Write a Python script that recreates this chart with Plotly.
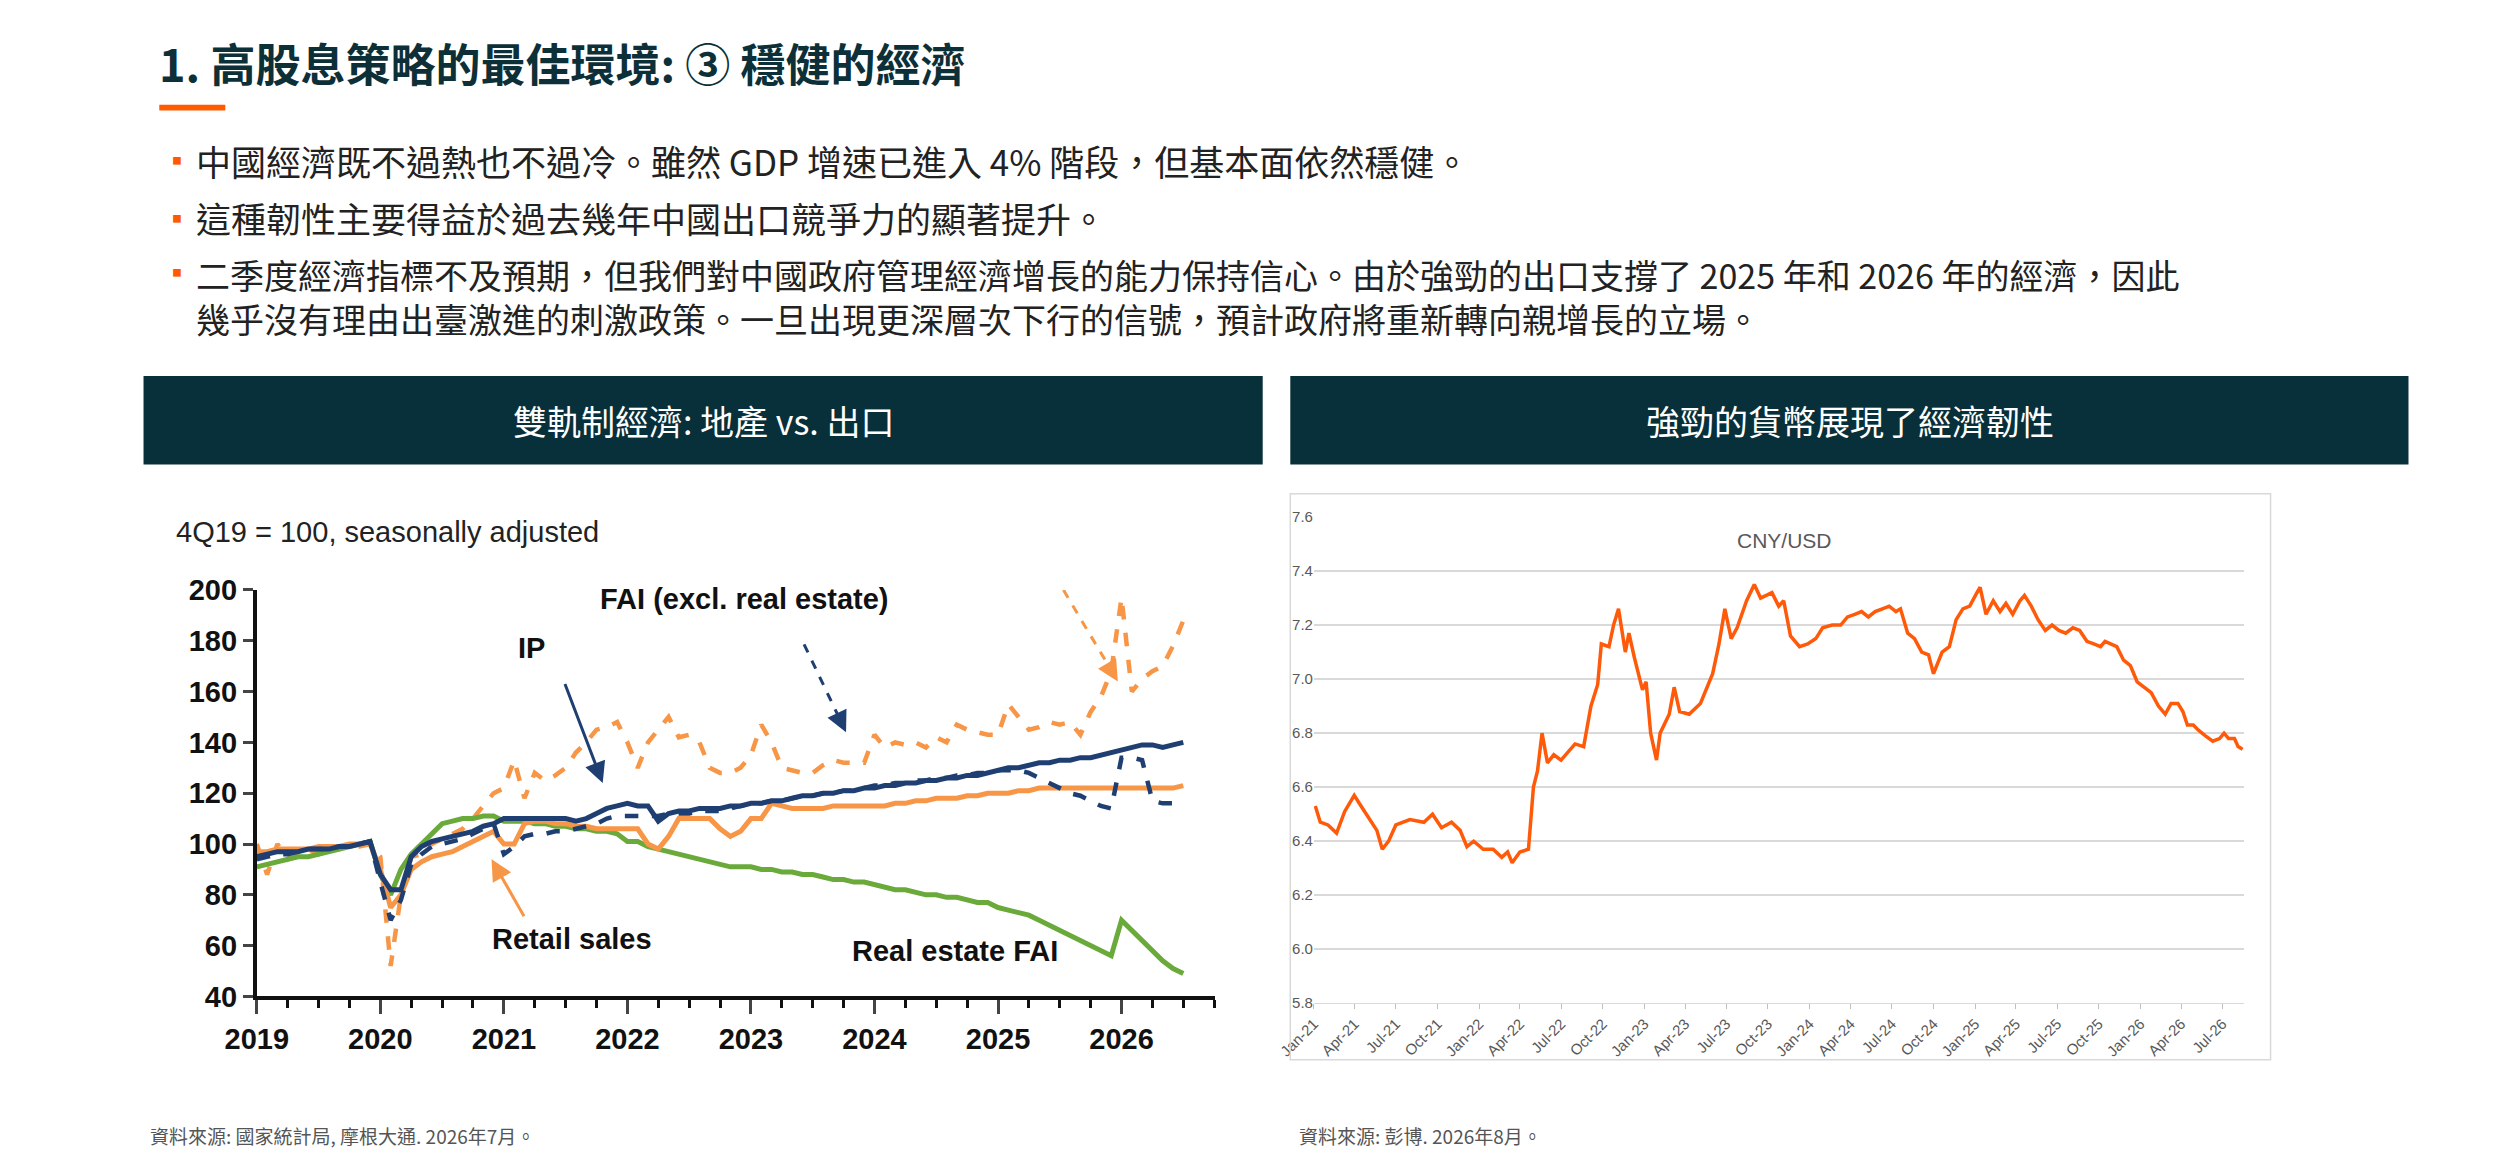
import plotly.graph_objects as go

W, H = 2500, 1161
def px(x): return x / W
def py(y): return 1 - y / H

# ---------- Left chart data (monthly, Jan 2019 - Jul 2026) ----------
months = [2019 + i / 12 for i in range(91)]
retail = [97,97,98,98,98,98,99,99,99,100,100,100,
          90,75,80,90,93,95,96,97,99,101,103,105,
          100,100,108,109,109,108,108,107,107,106,106,106,
          106,106,100,98,103,110,110,110,110,106,103,105,
          110,110,116,115,114,114,114,114,115,115,115,115,
          115,115,116,116,117,117,118,118,118,119,119,120,
          120,120,121,121,122,122,122,122,122,122,122,122,
          122,122,122,122,122,122,123]
ip = [95,96,97,97,97,98,98,98,99,99,100,101,
      88,82,82,95,99,101,102,103,104,105,107,108,
      110,110,110,110,110,110,110,109,110,112,114,115,
      116,115,115,109,112,113,113,114,114,114,115,115,
      116,116,117,117,118,119,119,120,120,121,121,122,
      122,123,123,124,124,125,125,126,126,127,127,128,
      129,130,130,131,132,132,133,133,134,134,135,136,
      137,138,139,139,138,139,140]
fai = [94,95,96,96,97,98,98,98,99,99,100,101,
       85,70,78,92,96,99,100,101,102,104,106,108,
       96,99,103,104,104,105,105,106,107,108,110,111,
       111,111,111,111,112,112,112,113,113,113,114,115,
       116,116,117,117,118,119,119,120,120,121,121,122,
       123,123,124,124,125,125,126,126,127,127,128,128,
       129,129,129,128,126,124,122,120,119,117,115,114,
       134,134,133,117,116,116,115]
exports = [100,88,100,94,97,98,96,99,98,100,99,100,
           95,52,80,95,96,100,102,104,106,110,115,120,
           122,133,118,128,125,127,130,136,140,145,146,148,
           140,130,140,145,150,142,143,140,130,128,128,130,
           135,147,140,130,129,128,128,131,133,132,132,132,
           143,138,140,139,140,138,142,140,147,145,144,143,
           143,155,150,145,146,148,147,148,143,152,158,168,
           197,160,165,168,170,178,188]
realestate = [91,92,93,94,95,95,96,97,98,99,100,101,
              88,80,90,96,100,104,108,109,110,110,111,111,
              109,109,109,108,108,107,107,106,106,105,105,104,
              101,101,99,98,97,96,95,94,93,92,91,91,
              91,90,90,89,89,88,88,87,86,86,85,85,
              84,83,82,82,81,80,80,79,79,78,77,77,
              75,74,73,72,70,68,66,64,62,60,58,56,
              70,66,62,58,54,51,49]

# ---------- Right chart data (CNY/USD) ----------
fx_dates = ["2021-01-04","2021-01-15","2021-02-01","2021-02-20","2021-03-10","2021-03-31","2021-04-15","2021-05-05","2021-05-20","2021-06-01","2021-06-15","2021-07-01","2021-08-01","2021-09-01","2021-09-20","2021-10-10","2021-11-01","2021-11-20","2021-12-05","2021-12-20",
            "2022-01-10","2022-02-01","2022-02-20","2022-03-05","2022-03-15","2022-04-01","2022-04-20","2022-05-01","2022-05-10","2022-05-20","2022-06-01","2022-06-15","2022-07-01","2022-08-01","2022-08-20","2022-09-05","2022-09-20","2022-09-28","2022-10-15","2022-10-25","2022-11-05","2022-11-20","2022-11-28","2022-12-10","2022-12-28",
            "2023-01-05","2023-01-15","2023-01-28","2023-02-05","2023-02-25","2023-03-08","2023-03-20","2023-04-10","2023-05-05","2023-06-01","2023-06-15","2023-06-28","2023-07-12","2023-07-25","2023-08-15","2023-09-01","2023-09-15","2023-10-10","2023-10-25","2023-11-05","2023-11-20","2023-12-10","2023-12-28",
            "2024-01-15","2024-01-30","2024-02-20","2024-03-10","2024-03-25","2024-04-10","2024-04-25","2024-05-10","2024-05-25","2024-06-10","2024-06-25","2024-07-10","2024-07-20","2024-08-05","2024-08-20","2024-09-05","2024-09-20","2024-10-01","2024-10-20","2024-11-05","2024-11-20","2024-12-05","2024-12-20",
            "2025-01-05","2025-01-12","2025-01-25","2025-02-10","2025-02-25","2025-03-10","2025-03-25","2025-04-10","2025-04-20","2025-05-05","2025-05-20","2025-06-05","2025-06-20","2025-07-05","2025-07-20","2025-08-05","2025-08-20","2025-09-05","2025-09-20","2025-10-05","2025-10-15","2025-10-28","2025-11-10","2025-11-25","2025-12-10","2025-12-25",
            "2026-01-10","2026-01-25","2026-02-10","2026-02-25","2026-03-10","2026-03-25","2026-04-05","2026-04-15","2026-04-28","2026-05-10","2026-05-25","2026-06-10","2026-06-25","2026-07-05","2026-07-15","2026-07-28","2026-08-05","2026-08-15"]
fx_values = [6.53,6.47,6.46,6.43,6.51,6.57,6.53,6.48,6.44,6.37,6.40,6.46,6.48,6.47,6.50,6.45,6.47,6.44,6.38,6.40,
             6.37,6.37,6.34,6.36,6.32,6.36,6.37,6.60,6.66,6.80,6.69,6.72,6.70,6.76,6.75,6.90,6.98,7.13,7.12,7.20,7.26,7.10,7.17,7.08,6.96,
             6.99,6.80,6.70,6.80,6.87,6.97,6.88,6.87,6.91,7.02,7.13,7.26,7.15,7.19,7.29,7.35,7.30,7.32,7.27,7.29,7.16,7.12,7.13,
             7.15,7.19,7.20,7.20,7.23,7.24,7.25,7.23,7.25,7.26,7.27,7.25,7.26,7.17,7.15,7.10,7.09,7.02,7.10,7.12,7.22,7.26,7.27,
             7.32,7.34,7.24,7.29,7.25,7.28,7.24,7.29,7.31,7.27,7.22,7.18,7.20,7.18,7.17,7.19,7.18,7.14,7.13,7.12,7.14,7.13,7.12,7.07,7.05,6.99,
             6.97,6.95,6.90,6.87,6.91,6.91,6.88,6.83,6.83,6.81,6.79,6.77,6.78,6.80,6.78,6.78,6.75,6.74]
fx_tick_dates = ["2021-01-01","2021-04-01","2021-07-01","2021-10-01","2022-01-01","2022-04-01","2022-07-01","2022-10-01",
                 "2023-01-01","2023-04-01","2023-07-01","2023-10-01","2024-01-01","2024-04-01","2024-07-01","2024-10-01",
                 "2025-01-01","2025-04-01","2025-07-01","2025-10-01","2026-01-01","2026-04-01","2026-07-01"]
fx_tick_text = ["Jan-21","Apr-21","Jul-21","Oct-21","Jan-22","Apr-22","Jul-22","Oct-22","Jan-23","Apr-23","Jul-23","Oct-23",
                "Jan-24","Apr-24","Jul-24","Oct-24","Jan-25","Apr-25","Jul-25","Oct-25","Jan-26","Apr-26","Jul-26"]

NAVY = "#1f3f73"
ORANGE = "#f79646"
GREEN = "#6aaa3a"
TEAL = "#08303a"
CJK = "Noto Sans CJK TC"
NARROW = "Liberation Sans Narrow, Arial Narrow, Liberation Sans, Arial"

fig = go.Figure()
fig.add_trace(go.Scatter(x=months, y=exports, mode="lines", line=dict(color=ORANGE, width=4.5, dash="dash"), xaxis="x", yaxis="y"))
fig.add_trace(go.Scatter(x=months, y=realestate, mode="lines", line=dict(color=GREEN, width=5), xaxis="x", yaxis="y"))
fig.add_trace(go.Scatter(x=months, y=retail, mode="lines", line=dict(color=ORANGE, width=5), xaxis="x", yaxis="y"))
fig.add_trace(go.Scatter(x=months, y=fai, mode="lines", line=dict(color=NAVY, width=4.5, dash="dash"), xaxis="x", yaxis="y"))
fig.add_trace(go.Scatter(x=months, y=ip, mode="lines", line=dict(color=NAVY, width=5), xaxis="x", yaxis="y"))
fig.add_trace(go.Scatter(x=fx_dates, y=fx_values, mode="lines", line=dict(color="#ff5a0a", width=3.5), xaxis="x2", yaxis="y2"))

ann = []
def A(text, x, y, size, color="#333", font=CJK, bold=False, xanchor="left", yanchor="middle"):
    t = f"<b>{text}</b>" if bold else text
    ann.append(dict(text=t, x=px(x), y=py(y), xref="paper", yref="paper", showarrow=False, align="left",
                    xanchor=xanchor, yanchor=yanchor, font=dict(size=size, color=color, family=font)))

A("1. 高股息策略的最佳環境: ③ 穩健的經濟", 114, 40, 45, color="#0d3038", bold=True)
A("▪", 118, 140, 28, color="#ff5a00")
A("中國經濟既不過熱也不過冷。雖然 GDP 增速已進入 4% 階段，但基本面依然穩健。", 151, 140, 35, color="#222")
A("▪", 118, 199, 28, color="#ff5a00")
A("這種韌性主要得益於過去幾年中國出口競爭力的顯著提升。", 151, 199, 35, color="#222")
A("▪", 118, 255, 28, color="#ff5a00")
A("二季度經濟指標不及預期，但我們對中國政府管理經濟增長的能力保持信心。由於強勁的出口支撐了 2025 年和 2026 年的經濟，因此"
  "<br>幾乎沒有理由出臺激進的刺激政策。一旦出現更深層次下行的信號，預計政府將重新轉向親增長的立場。", 151, 230, 34, color="#222", yanchor="top")
A("雙軌制經濟: 地產 vs. 出口", 668, 408, 34, color="white", xanchor="center")
A("強勁的貨幣展現了經濟韌性", 1832, 408, 34, color="white", xanchor="center")
A("4Q19 = 100, seasonally adjusted", 131, 522, 29, color="#222", font=NARROW)
A("CNY/USD", 1766, 531, 21, color="#595959", font="Liberation Sans, Arial", xanchor="center")
A("資料來源: 國家統計局, 摩根大通. 2026年7月。", 105, 1143, 19, color="#555")
A("資料來源: 彭博. 2026年8月。", 1271, 1143, 19, color="#555")

def L(text, x, y):
    ann.append(dict(text=f"<b>{text}</b>", x=x, y=y, xref="x", yref="y", showarrow=False, xanchor="center",
                    font=dict(size=29, color="#111", family=NARROW)))
L("IP", 2021.22, 177)
L("FAI (excl. real estate)", 2022.95, 196.5)
L("Exports", 2025.27, 213)
L("Retail sales", 2021.55, 62.6)
L("Real estate FAI", 2024.65, 58)

shapes = [
    dict(type="rect", xref="paper", yref="paper", x0=px(116), x1=px(183), y0=py(83), y1=py(89), fillcolor="#ff5a00", line_width=0),
    dict(type="rect", xref="paper", yref="paper", x0=px(100), x1=px(1236), y0=py(362), y1=py(453), fillcolor=TEAL, line_width=0),
    dict(type="rect", xref="paper", yref="paper", x0=px(1264), x1=px(2399), y0=py(362), y1=py(453), fillcolor=TEAL, line_width=0),
    dict(type="rect", xref="paper", yref="paper", x0=px(1264), x1=px(2259), y0=py(483), y1=py(1065), fillcolor="rgba(0,0,0,0)", line=dict(color="#d9d9d9", width=1.5)),
]

def ARW(x0, y0, x1, y1, color, dashed=False):
    if dashed:
        xm, ym = x0 + (x1 - x0) * 0.8, y0 + (y1 - y0) * 0.8
        shapes.append(dict(type="line", xref="x", yref="y", x0=x0, y0=y0, x1=xm, y1=ym,
                           line=dict(color=color, width=3, dash="dash")))
        x0, y0 = xm, ym
    ann.append(dict(x=x1, y=y1, ax=x0, ay=y0, xref="x", yref="y", axref="x", ayref="y", text="",
                    showarrow=True, arrowhead=2, arrowsize=1.4, arrowwidth=3, arrowcolor=color))
ARW(2021.49, 163.6, 2021.80, 124, NAVY)
ARW(2023.43, 178.6, 2023.77, 144, NAVY, dashed=True)
ARW(2025.53, 200, 2025.97, 164, ORANGE, dashed=True)
ARW(2021.17, 71, 2020.9, 94, ORANGE)

fig.update_layout(
    width=W, height=H, margin=dict(l=0, r=0, t=0, b=0), paper_bgcolor="white", plot_bgcolor="white",
    showlegend=False, annotations=ann, shapes=shapes,
    xaxis=dict(domain=[px(215), px(1188)], range=[2019, 2026.76], tickvals=list(range(2019, 2027)),
               ticks="outside", ticklen=14, tickwidth=3, showline=True, linewidth=4, linecolor="#111",
               showgrid=False, zeroline=False, minor=dict(dtick=0.25, ticks="outside", ticklen=8, tickwidth=3, tickcolor="#111"),
               tickfont=dict(size=29, family=NARROW, color="#111", weight="bold"), anchor="y"),
    yaxis=dict(domain=[py(1000), py(582)], range=[40, 200], dtick=20, ticks="outside", ticklen=10, tickwidth=3,
               showline=True, linewidth=4, linecolor="#111", showgrid=False, zeroline=False,
               tickfont=dict(size=29, family=NARROW, color="#111", weight="bold"), anchor="x"),
    xaxis2=dict(domain=[px(1288), px(2232)], range=["2021-01-01", "2026-08-18"], tickvals=fx_tick_dates, ticktext=fx_tick_text,
                tickangle=-45, ticks="outside", ticklen=5, tickcolor="#bfbfbf", showline=True, linecolor="#d9d9d9",
                showgrid=False, zeroline=False, tickfont=dict(size=15, color="#595959", family="Liberation Sans, Arial"), anchor="y2"),
    yaxis2=dict(domain=[py(1007), py(507)], range=[5.8, 7.6], dtick=0.2, tickformat=".1f", showgrid=True, gridcolor="#d9d9d9",
                gridwidth=1.5, zeroline=False, showline=False, tickfont=dict(size=15, color="#595959", family="Liberation Sans, Arial"),
                anchor="x2"),
)
fig.write_html("out.html")
